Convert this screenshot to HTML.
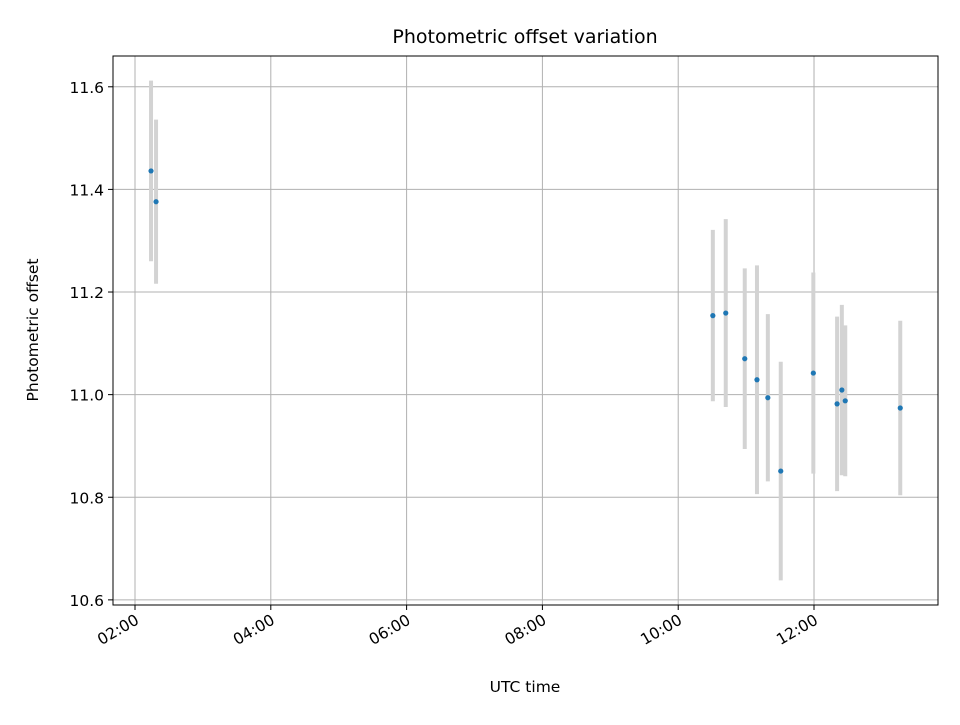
<!DOCTYPE html>
<html><head><meta charset="utf-8"><style>
body{margin:0;background:#fff}
svg text{font-family:"DejaVu Sans","Liberation Sans",sans-serif;fill:#000}
</style></head><body>
<svg id="chart" width="960" height="720" viewBox="0 0 960 720" xmlns="http://www.w3.org/2000/svg">
<rect width="960" height="720" fill="#fff"/>
<g id="grid"></g>
<g id="errs"></g>
<g id="pts"></g>
<rect x="113" y="56" width="825" height="549" fill="none" stroke="#000" stroke-width="1"/>
<g id="ticks"></g>
<text x="525" y="43" font-size="19" text-anchor="middle">Photometric offset variation</text>
<text x="525" y="692" font-size="15.5" text-anchor="middle">UTC time</text>
<text x="38" y="330" font-size="15.5" text-anchor="middle" transform="rotate(-90 38 330)">Photometric offset</text>
</svg>
<script>
const times = [2.236,2.31,10.51,10.70,10.98,11.16,11.32,11.51,11.99,12.34,12.41,12.46,13.27];
const offsets = [11.436,11.376,11.154,11.159,11.070,11.029,10.994,10.851,11.042,10.982,11.009,10.988,10.974];
const errors = [0.176,0.16,0.167,0.183,0.176,0.223,0.163,0.213,0.196,0.17,0.166,0.147,0.17];
const xTickValues = [2,4,6,8,10,12];
const xTickLabels = ["02:00","04:00","06:00","08:00","10:00","12:00"];
const yTickValues = [10.6,10.8,11.0,11.2,11.4,11.6];
const yTickLabels = ["10.6","10.8","11.0","11.2","11.4","11.6"];

const L=113,R=938,T=56,B=605, xMin=1.676,xMax=13.826,yMin=10.590,yMax=11.660;
const X=v=>L+(v-xMin)/(xMax-xMin)*(R-L);
const Y=v=>B-(v-yMin)/(yMax-yMin)*(B-T);
const NS="http://www.w3.org/2000/svg";
function mk(tag,attrs,parent){const e=document.createElementNS(NS,tag);for(const k in attrs)e.setAttribute(k,attrs[k]);document.getElementById(parent).appendChild(e);return e;}
xTickValues.forEach((v,i)=>{
  const x=X(v);
  const g=mk('line',{x1:x,x2:x,y1:T,y2:B,stroke:'#b0b0b0','stroke-width':1},'grid');
  
  
  const t=mk('line',{x1:x,x2:x,y1:B,y2:B+5,stroke:'#000'},'ticks');
  
  
  const lx=x+5, ly=B+18;
  const lb=mk('text',{x:lx,y:ly,'font-size':15.5,'text-anchor':'end',transform:`rotate(-30 ${lx} ${ly})`},'ticks');
  lb.textContent=xTickLabels[i];
  
  
});
yTickValues.forEach((v,i)=>{
  const y=Y(v);
  const g=mk('line',{x1:L,x2:R,y1:y,y2:y,stroke:'#b0b0b0','stroke-width':1},'grid');
  
  
  const t=mk('line',{x1:L-5,x2:L,y1:y,y2:y,stroke:'#000'},'ticks');
  
  
  const lb=mk('text',{x:L-9,y:y+6,'font-size':15.5,'text-anchor':'end'},'ticks');
  lb.textContent=yTickLabels[i];
  
  
});
times.forEach((t,i)=>{
  const x=X(t);
  const e=mk('line',{x1:x,x2:x,y1:Y(offsets[i]+errors[i]),y2:Y(offsets[i]-errors[i]),stroke:'#d3d3d3','stroke-width':4},'errs');
  
  
  const c=mk('circle',{cx:x,cy:Y(offsets[i]),r:2.6,fill:'#1f77b4'},'pts');
  
  
});
</script>
</body></html>
